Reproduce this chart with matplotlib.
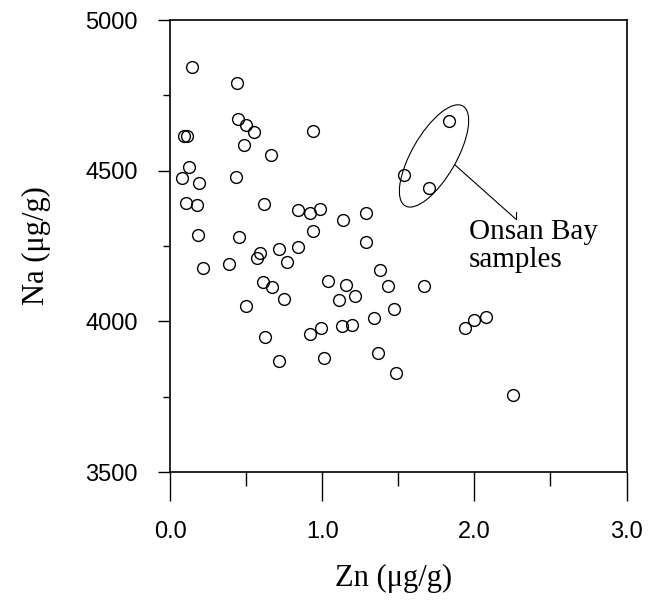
import matplotlib
matplotlib.use("Agg")
import matplotlib.pyplot as plt
from matplotlib.patches import Ellipse
from matplotlib.transforms import Affine2D, ScaledTranslation
from matplotlib.ticker import MultipleLocator

zn = [0.147, 0.443, 0.447, 0.500, 0.550, 0.943, 0.489, 0.662, 0.094, 0.110,
      0.125, 0.081, 0.189, 0.432, 0.105, 0.178, 0.618, 0.842, 0.921, 0.989,
      1.136, 1.287, 0.186, 0.456, 0.939, 1.287, 0.219, 0.386, 0.572, 0.592,
      0.719, 0.840, 0.768, 0.610, 0.673, 0.748, 0.502, 1.037, 1.156, 1.112,
      1.219, 1.382, 1.434, 1.474, 1.340, 1.132, 1.193, 0.995, 0.917, 0.625,
      0.719, 1.015, 1.366, 1.487, 1.831, 1.539, 1.702, 1.671, 1.941, 2.000,
      2.079, 2.254]
na = [4845, 4792, 4672, 4652, 4628, 4631, 4586, 4551, 4615, 4616,
      4513, 4475, 4458, 4480, 4394, 4386, 4388, 4368, 4358, 4373,
      4336, 4360, 4286, 4279, 4300, 4262, 4176, 4191, 4211, 4226,
      4239, 4246, 4197, 4130, 4115, 4073, 4051, 4134, 4121, 4070,
      4084, 4170, 4117, 4041, 4011, 3984, 3988, 3979, 3959, 3948,
      3869, 3878, 3894, 3827, 4665, 4486, 4441, 4117, 3978, 4003,
      4015, 3755]

x_ticks = [0.0, 1.0, 2.0, 3.0]
x_ticklabels = ["0.0", "1.0", "2.0", "3.0"]
y_ticks = [3500, 4000, 4500, 5000]
y_ticklabels = ["3500", "4000", "4500", "5000"]
annotation_text = "Onsan Bay\nsamples"

DPI = 100
fig = plt.figure(figsize=(6.62, 6.0), dpi=DPI)
ax = fig.add_axes([0.2568, 0.2133, 0.6896, 0.7533])

ax.plot(zn, na, linestyle="none", marker="o", markersize=8.5,
        markerfacecolor="none", markeredgecolor="black", markeredgewidth=1.0)

ax.set_xlim(0, 3)
ax.set_ylim(3500, 5000)
ax.set_xticks(x_ticks)
ax.set_xticklabels(x_ticklabels)
ax.set_yticks(y_ticks)
ax.set_yticklabels(y_ticklabels)
ax.xaxis.set_minor_locator(MultipleLocator(0.5))
ax.yaxis.set_minor_locator(MultipleLocator(250))

for sp in ax.spines.values():
    sp.set_linewidth(1.2)

ax.tick_params(axis="x", which="major", direction="out", length=21, width=1.0,
               pad=14, labelsize=17)
ax.tick_params(axis="x", which="minor", direction="out", length=10, width=1.0)
ax.tick_params(axis="y", which="major", direction="out", length=9, width=1.0,
               pad=14, labelsize=17)
ax.tick_params(axis="y", which="minor", direction="out", length=5, width=1.0)
for lab in ax.get_xticklabels() + ax.get_yticklabels():
    lab.set_family(["Liberation Sans", "DejaVu Sans"])

serif = ["Liberation Serif", "DejaVu Serif"]
ax.set_xlabel("Zn (\u03bcg/g)", fontsize=22, family=serif)
ax.set_ylabel("Na (\u03bcg/g)", fontsize=22, family=serif)
ax.xaxis.set_label_coords(0.49, -0.203)
ax.yaxis.set_label_coords(-0.26, 0.5)

# ellipse around Onsan Bay samples
cx, cy = 1.735, 4549
ell_t = Affine2D().scale(DPI / 72.0) + ScaledTranslation(cx, cy, ax.transData)
ax.add_patch(Ellipse((0, 0), width=83, height=32, angle=60, fill=False,
                     edgecolor="black", linewidth=0.8, transform=ell_t))

# leader line
ax.plot([1.873, 2.271], [4519, 4340], color="black", linewidth=0.8)
ax.plot([2.271, 2.271], [4340, 4363], color="black", linewidth=0.8)

ax.text(1.962, 4340, annotation_text, fontsize=21, family=serif,
        ha="left", va="top", linespacing=1.12)

fig.savefig("out.png", dpi=DPI)
